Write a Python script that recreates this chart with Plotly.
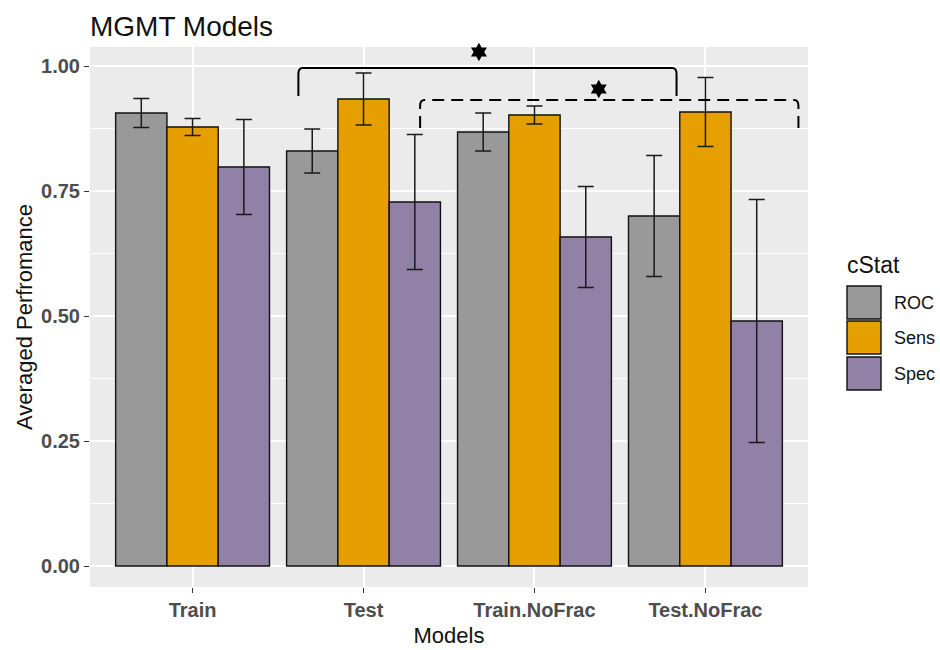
import plotly.graph_objects as go

# Model groups and the three summary statistics per group
models = ["Train", "Test", "Train.NoFrac", "Test.NoFrac"]
stats = ["ROC", "Sens", "Spec"]

roc_mean = [0.906, 0.830, 0.868, 0.700]
roc_sd = [0.029, 0.044, 0.038, 0.121]
sens_mean = [0.878, 0.934, 0.902, 0.908]
sens_sd = [0.017, 0.052, 0.018, 0.069]
spec_mean = [0.798, 0.728, 0.658, 0.490]
spec_sd = [0.095, 0.135, 0.101, 0.243]

colors = {"ROC": "#999999", "Sens": "#E69F00", "Spec": "#9181A7"}

# Significance brackets: [x_left, x_right, y_top, y_drop], star position
bracket_solid = [1.619, 3.831, 0.996, 0.940]
bracket_dashed = [2.331, 4.544, 0.932, 0.876]
star_x = [2.675, 3.376]
star_y = [1.028, 0.954]

y_ticks = [0.00, 0.25, 0.50, 0.75, 1.00]
y_tick_text = ["0.00", "0.25", "0.50", "0.75", "1.00"]

W, H = 940, 650
L, R, T, B = 90, 132, 47, 63
x_pos = list(range(1, len(models) + 1))

fig = go.Figure()
series = [("ROC", roc_mean, roc_sd), ("Sens", sens_mean, sens_sd), ("Spec", spec_mean, spec_sd)]
for name, mean, sd in series:
    fig.add_trace(go.Bar(
        x=x_pos, y=mean, name=name, offsetgroup=name,
        marker=dict(color=colors[name], line=dict(color="#111111", width=1.4)),
        error_y=dict(type="data", array=sd, visible=True, color="#1a1a1a",
                     thickness=1.5, width=8),
        showlegend=False,
    ))

fig.add_trace(go.Scatter(
    x=star_x, y=star_y, mode="markers", cliponaxis=False,
    marker=dict(symbol="hexagram", size=14, color="black"),
    showlegend=False, hoverinfo="skip",
))


def bracket_path(x0, x1, yt, yb, rx=0.025, ry=0.012):
    return (f"M {x0},{yb} L {x0},{yt - ry} Q {x0},{yt} {x0 + rx},{yt} "
            f"L {x1 - rx},{yt} Q {x1},{yt} {x1},{yt - ry} L {x1},{yb}")


shapes = []
x0, x1, yt, yb = bracket_solid
shapes.append(dict(type="path", xref="x", yref="y", path=bracket_path(x0, x1, yt, yb),
                   line=dict(color="black", width=2)))
x0, x1, yt, yb = bracket_dashed
shapes.append(dict(type="path", xref="x", yref="y", path=bracket_path(x0, x1, yt, yb),
                   line=dict(color="black", width=2, dash="12px,7px")))


# Legend drawn to the right of the panel
def px_x(p):
    return (p - L) / (W - L - R)


def px_y(p):
    return 1 - (p - T) / (H - T - B)


annotations = [dict(text="cStat", xref="paper", yref="paper", x=px_x(845), y=px_y(265),
                    xanchor="left", yanchor="middle", showarrow=False,
                    font=dict(size=23, color="#111111"))]
key_tops = [286, 321, 357]
for name, top in zip(stats, key_tops):
    shapes.append(dict(type="rect", xref="paper", yref="paper",
                       x0=px_x(847), x1=px_x(881), y0=px_y(top), y1=px_y(top + 33),
                       fillcolor=colors[name], line=dict(color="#111111", width=1.4)))
    annotations.append(dict(text=name, xref="paper", yref="paper", x=px_x(892),
                            y=px_y(top + 17), xanchor="left", yanchor="middle",
                            showarrow=False, font=dict(size=18, color="#111111")))

fig.update_layout(
    width=W, height=H,
    margin=dict(l=L, r=R, t=T, b=B),
    paper_bgcolor="white", plot_bgcolor="#EBEBEB",
    font=dict(family="Liberation Sans, Arial, sans-serif"),
    barmode="group", bargap=0.1, bargroupgap=0,
    title=dict(text="MGMT Models", x=0, xref="paper", xanchor="left",
               y=1 - 26 / H, yref="container", yanchor="middle",
               font=dict(size=28, color="#111111")),
    shapes=shapes, annotations=annotations,
    xaxis=dict(
        range=[0.4, 4.6], tickvals=x_pos, ticktext=models, automargin=False,
        showgrid=True, gridcolor="white", gridwidth=1.5, zeroline=False,
        ticks="outside", ticklen=5, tickcolor="#333333",
        tickfont=dict(size=20, color="#4D4D4D", weight="bold"),
        title=dict(text="Models", font=dict(size=22, color="#111111"), standoff=7),
    ),
    yaxis=dict(
        range=[-0.042, 1.038], tickvals=y_ticks, ticktext=y_tick_text, automargin=False,
        showgrid=True, gridcolor="white", gridwidth=1.5, zeroline=False,
        ticks="outside", ticklen=5, tickcolor="#333333",
        tickfont=dict(size=20, color="#4D4D4D", weight="bold"),
        minor=dict(tick0=0.125, dtick=0.25, showgrid=True, gridcolor="white",
                   gridwidth=0.7, ticks=""),
        title=dict(text="Averaged Perfromance", font=dict(size=22, color="#111111"),
                   standoff=2),
    ),
)

fig.write_html("out.html")
